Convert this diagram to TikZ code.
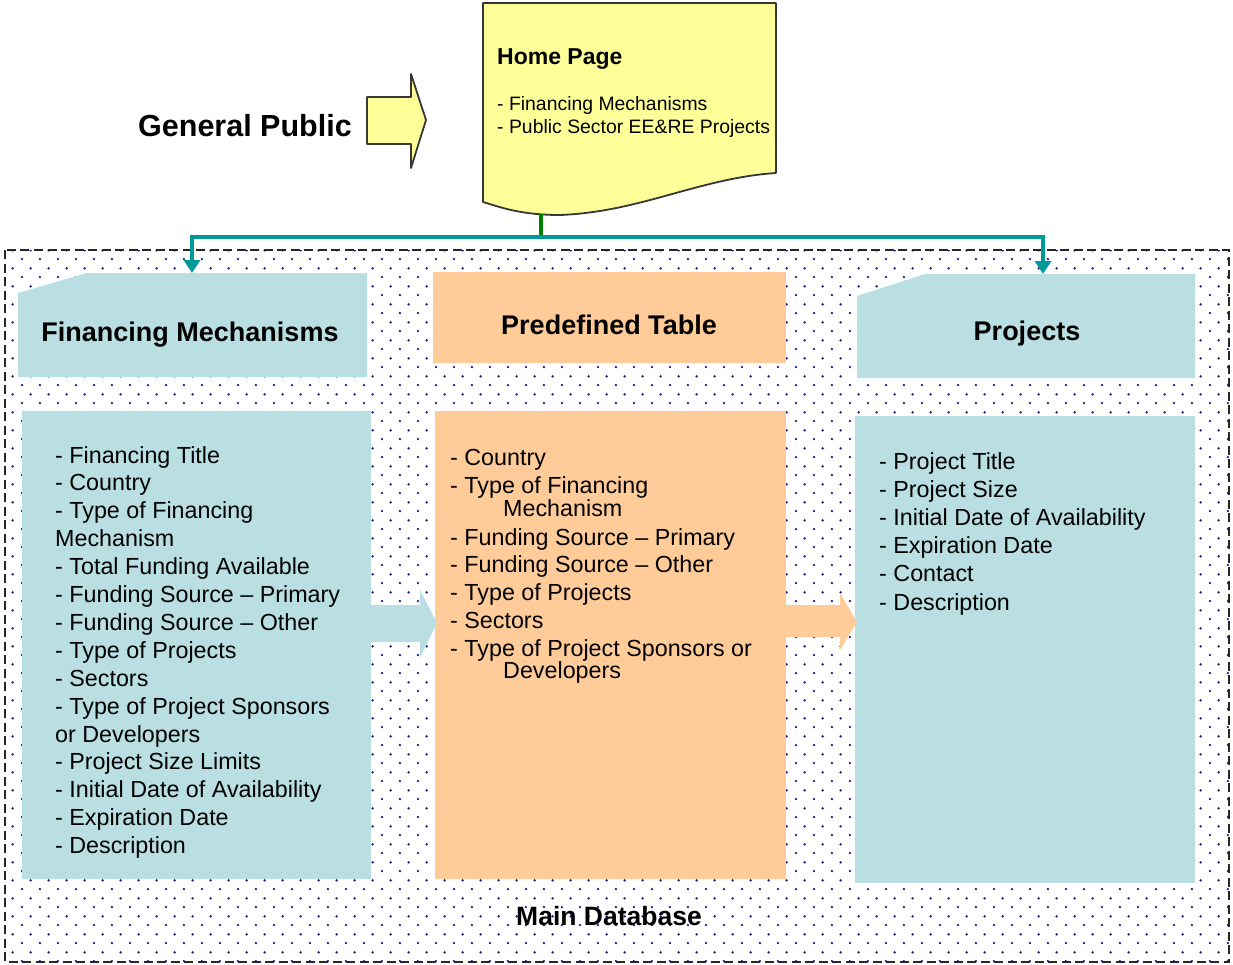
\documentclass[tikz,border=0pt]{standalone}
\usepackage{fontspec}
\setmainfont{Liberation Sans}
\usetikzlibrary{patterns.meta,arrows.meta}

\definecolor{fmteal}{RGB}{185,223,227}
\definecolor{porange}{RGB}{255,204,153}
\definecolor{hyellow}{RGB}{255,255,153}
\definecolor{conteal}{RGB}{0,153,153}
\definecolor{congreen}{RGB}{0,128,0}
\definecolor{dotblue}{RGB}{30,30,150}
\definecolor{outl}{RGB}{55,55,55}

\tikzdeclarepattern{
  name=dbdots,
  type=uncolored,
  bounding box={(0pt,0pt) and (17.7pt,17.7pt)},
  tile size={(17.7pt,17.7pt)},
  code={
    \fill (4pt,4pt) circle (1.35pt);
    \fill (12.85pt,12.85pt) circle (1.35pt);
  }
}

\tikzset{
  listtext/.style={anchor=base west, inner sep=0pt, font=\fontsize{23.3}{28}\selectfont},
  headtext/.style={anchor=base, inner sep=0pt, font=\fontsize{27}{32}\selectfont\bfseries},
  tealarrow/.style={draw=conteal, line width=4pt, -{Triangle[length=13pt,width=16pt]}},
  greenline/.style={draw=congreen, line width=3.2pt},
  yellowshape/.style={fill=hyellow, draw=outl, line width=1.8pt, line join=round},
}

\begin{document}
\begin{tikzpicture}[x=1pt,y=-1pt]
\useasboundingbox (0,0) rectangle (1233,964);

% main database area
\fill[pattern={dbdots}, pattern color=dotblue] (5,250) rectangle (1229,962);
\draw[black!85, line width=2.2pt, dash pattern=on 9pt off 4.5pt] (5,250) rectangle (1229,962);

% header shapes
\fill[fmteal] (18,293) -- (87,273) -- (367,273) -- (367,377) -- (18,377) -- cycle;
\fill[porange] (433,272) rectangle (786,363);
\fill[fmteal] (857,296) -- (925,274) -- (1195,274) -- (1195,378) -- (857,378) -- cycle;

% list boxes
\fill[fmteal] (22,411) rectangle (371,879);
\fill[porange] (435,411) rectangle (786,879);
\fill[fmteal] (855,416) rectangle (1195,883);

% block arrows between boxes
\fill[fmteal] (370,605) -- (420,605) -- (420,590) -- (437,623) -- (420,658) -- (420,642) -- (370,642) -- cycle;
\fill[porange] (786,605) -- (840,605) -- (840,593) -- (857,622) -- (840,650) -- (840,637) -- (786,637) -- cycle;

% General public arrow
\draw[yellowshape] (367,97) -- (411,97) -- (411,74) -- (426,120) -- (411,168) -- (411,144) -- (367,144) -- cycle;
\node[anchor=base, inner sep=0pt, font=\fontsize{30.5}{35}\selectfont\bfseries] (gp) at (245,136) {General Public};

% Home page document
\draw[yellowshape] (483,3) -- (776,3) -- (776,173)
  .. controls (700,178) and (640,212) .. (560,215)
  .. controls (520,215) and (500,207) .. (483,202) -- cycle;
\node[anchor=base west, inner sep=0pt, font=\fontsize{23}{27}\selectfont\bfseries] (hp) at (497,64) {Home Page};
\node[anchor=base west, inner sep=0pt, font=\fontsize{19.4}{23}\selectfont] (hp1) at (497,110) {- Financing Mechanisms};
\node[anchor=base west, inner sep=0pt, font=\fontsize{19.4}{23}\selectfont] (hp2) at (497,133) {- Public Sector EE\&RE Projects};

% connectors
\coordinate (homebot) at (541,214);
\coordinate (hub) at (541,237);
\coordinate (fmtop) at (192,273);
\coordinate (prtop) at (1043,274);
\draw[greenline] (homebot) -- (hub);
\draw[tealarrow] (hub) -| (fmtop);
\draw[tealarrow] (hub) -| (prtop);

% header texts
\node[headtext] (fmh) at (190,341) {Financing Mechanisms};
\node[headtext] (pth) at (609,334) {Predefined Table};
\node[headtext] (prh) at (1027,340) {Projects};

% lists
\foreach \t [count=\i] in {- Financing Title, - Country, - Type of Financing, Mechanism,
  - Total Funding Available, - Funding Source -- Primary, - Funding Source -- Other,
  - Type of Projects, - Sectors, - Type of Project Sponsors, or Developers,
  - Project Size Limits, - Initial Date of Availability, - Expiration Date, - Description}
  \node[listtext, name=fm\i] at (55,{463+27.9*(\i-1)}) {\t};

\foreach \x/\y/\t [count=\i] in {450/465/- Country, 450/493/- Type of Financing, 503/516/Mechanism,
  450/545/- Funding Source -- Primary, 450/572/- Funding Source -- Other,
  450/600/- Type of Projects, 450/628/- Sectors, 450/656/- Type of Project Sponsors or,
  503/678/Developers}
  \node[listtext, name=pt\i] at (\x,\y) {\t};

\foreach \t [count=\i] in {- Project Title, - Project Size, - Initial Date of Availability,
  - Expiration Date, - Contact, - Description}
  \node[listtext, name=pr\i] at (879,{469+28.2*(\i-1)}) {\t};

\node[anchor=base, inner sep=0pt, font=\fontsize{26.5}{30}\selectfont\bfseries] (mdb) at (609,925) {Main Database};
\end{tikzpicture}
\end{document}
